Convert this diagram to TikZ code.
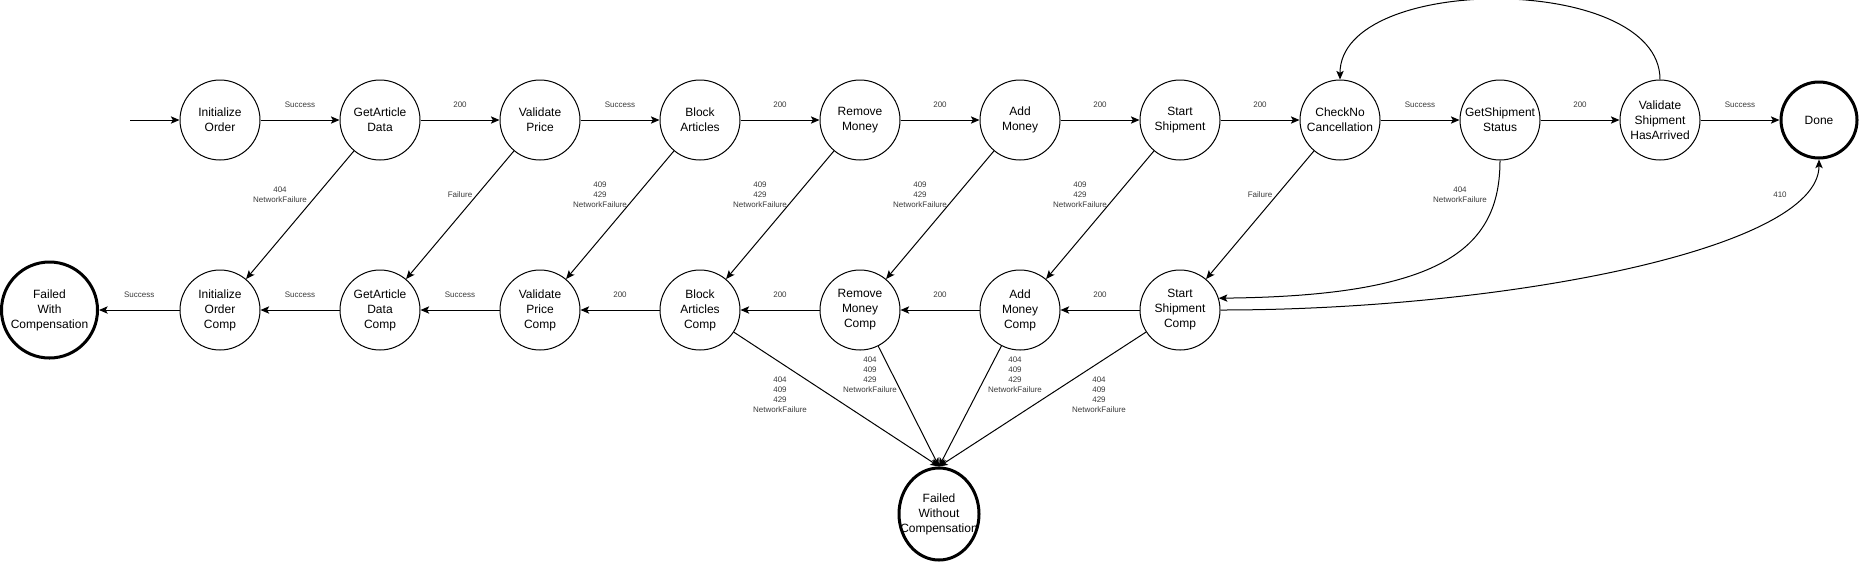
\documentclass[tikz,border=0pt]{standalone}
\usepackage{fontspec}
\setmainfont{Liberation Sans}
\usepackage{tikz}
\usetikzlibrary{positioning,arrows.meta,shapes.geometric}
\definecolor{ink1}{HTML}{000000}
\definecolor{gray1}{HTML}{3A3A3A}

\begin{document}
\begin{tikzpicture}[
    x=0.75pt, y=-0.75pt,
    >={Stealth[length=6.5pt,width=5.5pt,inset=1.5pt]},
    st/.style={draw, circle, line width=0.75pt, minimum size=60pt,
               inner sep=0pt, align=center, text=ink1,
               font=\fontsize{9}{11.25}\selectfont},
    stend/.style={st, line width=2.25pt},
    lbl/.style={font=\fontsize{6}{7.5}\selectfont, color=gray1,
                align=center, inner sep=1pt},
    arr/.style={->, line width=0.75pt},
]
\useasboundingbox (0,0) rectangle (1859,562);

% Forward states
\node[st] (io)   at (220,120)  {Initialize\\Order};
\node[st] (gad)  at (380,120)  {GetArticle\\Data};
\node[st] (vp)   at (540,120)  {Validate\\Price};
\node[st] (ba)   at (700,120)  {Block\\Articles};
\node[st] (rm)   at (860,120)  {Remove\\Money};
\node[st] (am)   at (1020,120) {Add\\Money};
\node[st] (ss)   at (1180,120) {Start\\Shipment};
\node[st] (cnc)  at (1340,120) {CheckNo\\Cancellation};
\node[st] (gss)  at (1500,120) {GetShipment\\Status};
\node[st] (vsha) at (1660,120) {Validate\\Shipment\\HasArrived};
\node[stend, minimum size=57pt] (done) at (1819,120) {Done};

% Compensation states
\node[stend, minimum size=72pt] (fwc) at (49.5,310) {Failed\\With\\Compensation};
\node[st] (ioc)  at (220,310)  {Initialize\\Order\\Comp};
\node[st] (gadc) at (380,310)  {GetArticle\\Data\\Comp};
\node[st] (vpc)  at (540,310)  {Validate\\Price\\Comp};
\node[st] (bac)  at (700,310)  {Block\\Articles\\Comp};
\node[st] (rmc)  at (860,310)  {Remove\\Money\\Comp};
\node[st] (amc)  at (1020,310) {Add\\Money\\Comp};
\node[st] (ssc)  at (1180,310) {Start\\Shipment\\Comp};
\node[stend, ellipse, minimum width=60pt, minimum height=69pt] (fwoc) at (939,514)
    {\makebox[0pt]{\begin{tabular}{@{}c@{}}Failed\\Without\\Compensation\end{tabular}}};

% Happy path
\coordinate (start) at (130,120);
\draw[arr] (start) -- (io);
\draw[arr] (io) -- (gad) node[lbl, midway, yshift=11.25pt] (t1) {Success};
\draw[arr] (gad) -- (vp) node[lbl, midway, yshift=11.25pt] (t2) {200};
\draw[arr] (vp) -- (ba) node[lbl, midway, yshift=11.25pt] (t3) {Success};
\draw[arr] (ba) -- (rm) node[lbl, midway, yshift=11.25pt] (t4) {200};
\draw[arr] (rm) -- (am) node[lbl, midway, yshift=11.25pt] (t5) {200};
\draw[arr] (am) -- (ss) node[lbl, midway, yshift=11.25pt] (t6) {200};
\draw[arr] (ss) -- (cnc) node[lbl, midway, yshift=11.25pt] (t7) {200};
\draw[arr] (cnc) -- (gss) node[lbl, midway, yshift=11.25pt] (t8) {Success};
\draw[arr] (gss) -- (vsha) node[lbl, midway, yshift=11.25pt] (t9) {200};
\draw[arr] (vsha) -- (done) node[lbl, midway, yshift=11.25pt] (t10) {Success};

% Poll loop
\draw[arr] (vsha.north) .. controls (1660,-27) and (1340,-27) .. (cnc.north);

% Compensation chain
\draw[arr] (ioc) -- (fwc) node[lbl, midway, yshift=11.25pt] (b1) {Success};
\draw[arr] (gadc) -- (ioc) node[lbl, midway, yshift=11.25pt] (b2) {Success};
\draw[arr] (vpc) -- (gadc) node[lbl, midway, yshift=11.25pt] (b3) {Success};
\draw[arr] (bac) -- (vpc) node[lbl, midway, yshift=11.25pt] (b4) {200};
\draw[arr] (rmc) -- (bac) node[lbl, midway, yshift=11.25pt] (b5) {200};
\draw[arr] (amc) -- (rmc) node[lbl, midway, yshift=11.25pt] (b6) {200};
\draw[arr] (ssc) -- (amc) node[lbl, midway, yshift=11.25pt] (b7) {200};

% Failures into compensation
\draw[arr] (gad) -- (ioc);
\draw[arr] (vp) -- (gadc);
\draw[arr] (ba) -- (vpc);
\draw[arr] (rm) -- (bac);
\draw[arr] (am) -- (rmc);
\draw[arr] (ss) -- (amc);
\draw[arr] (cnc) -- (ssc);
\draw[arr] (gss.south) .. controls (1500,250) and (1440,296) .. (ssc.17);
\draw[arr] (ssc.east) .. controls (1500,310) and (1819,250) .. (done.south);

\node[lbl] (f1) at (280,195)  {404\\NetworkFailure};
\node[lbl] (f2) at (460,195)  {Failure};
\node[lbl] (f3) at (600,195)  {409\\429\\NetworkFailure};
\node[lbl] (f4) at (760,195)  {409\\429\\NetworkFailure};
\node[lbl] (f5) at (920,195)  {409\\429\\NetworkFailure};
\node[lbl] (f6) at (1080,195) {409\\429\\NetworkFailure};
\node[lbl] (f7) at (1260,195) {Failure};
\node[lbl] (f8) at (1460,195) {404\\NetworkFailure};
\node[lbl] (f9) at (1780,195) {410};

% Failed compensations
\draw[arr] (bac) -- (fwoc.north);
\draw[arr] (rmc) -- (fwoc.north);
\draw[arr] (amc) -- (fwoc.north);
\draw[arr] (ssc) -- (fwoc.north);

\node[lbl] (c1) at (780,394.5)  {404\\409\\429\\NetworkFailure};
\node[lbl] (c2) at (870,374.5)  {404\\409\\429\\NetworkFailure};
\node[lbl] (c3) at (1015,374.5) {404\\409\\429\\NetworkFailure};
\node[lbl] (c4) at (1099,394.5) {404\\409\\429\\NetworkFailure};
\end{tikzpicture}
\end{document}
